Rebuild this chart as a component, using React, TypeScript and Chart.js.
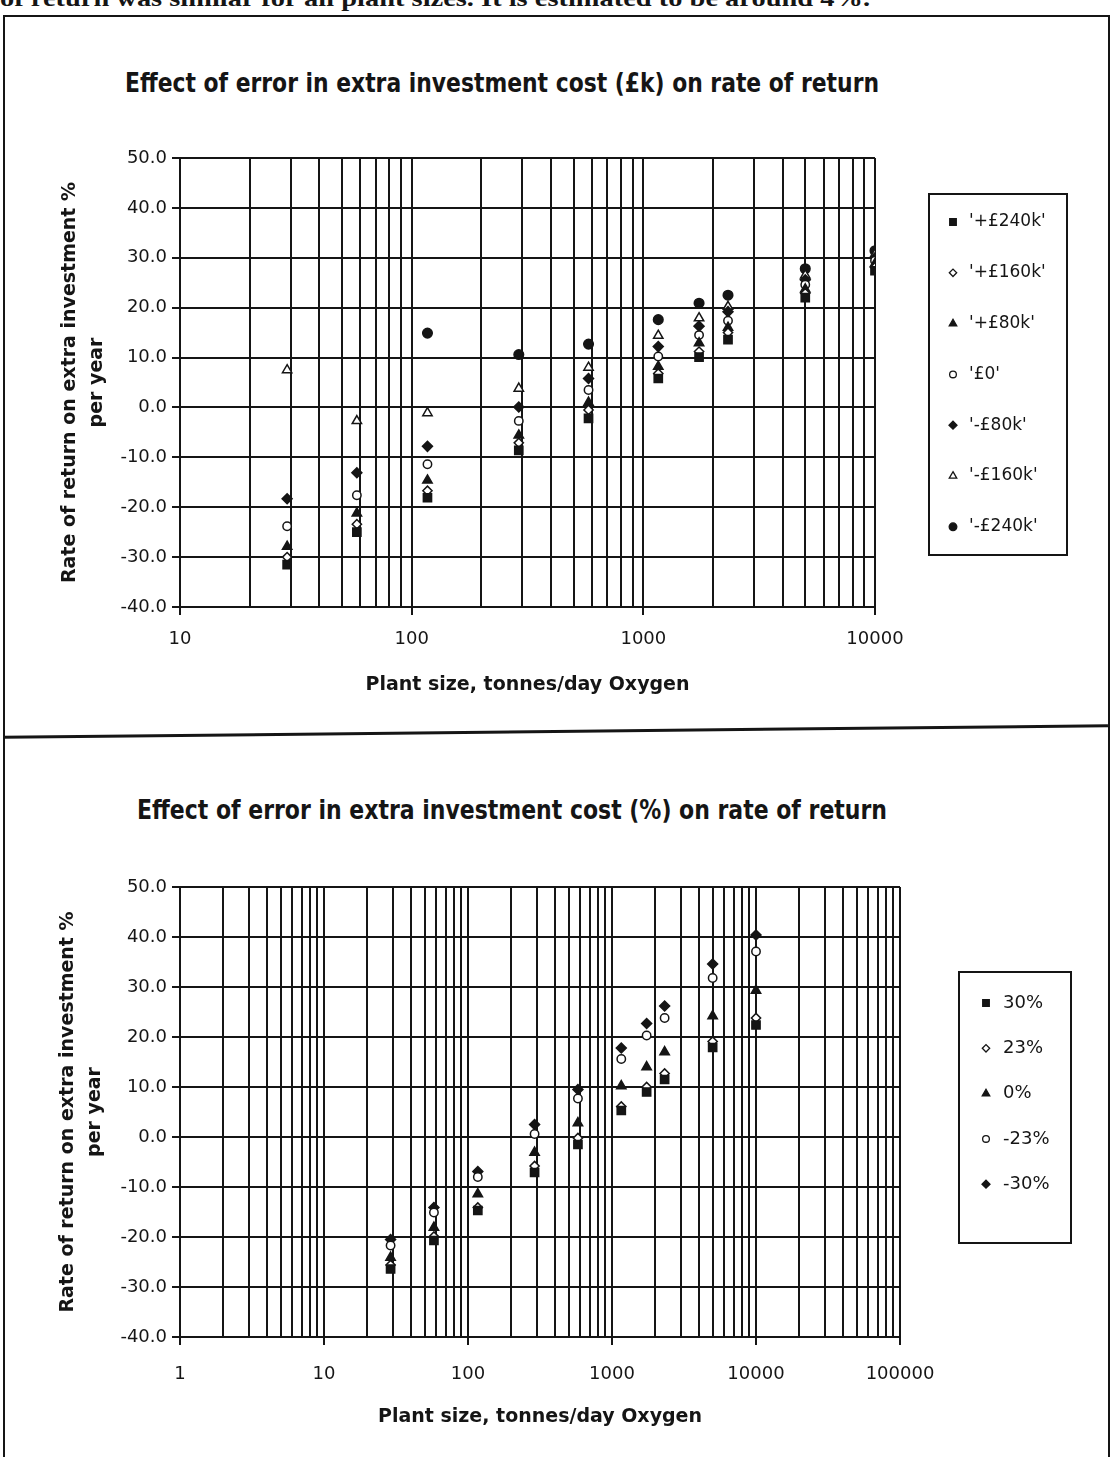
import React, { useEffect, useLayoutEffect, useRef } from 'react';
import { Chart, registerables } from 'chart.js';

Chart.register(...registerables);

// ---------- data ----------
const plantSizes = [29, 58, 117, 290, 580, 1160, 1740, 2320, 5000, 10000];

// Top chart: error in extra investment cost (£k)
const topSeriesLabels = ["'+£240k'", "'+£160k'", "'+£80k'", "'£0'", "'-£80k'", "'-£160k'", "'-£240k'"];
const plus240k = [-31.5, -25.0, -18.1, -8.6, -2.2, 5.8, 10.1, 13.6, 22.0, 27.4];
const plus160k = [-30.0, -23.4, -16.7, -7.1, -0.5, 6.8, 11.2, 15.0, 22.9, 28.1];
const plus80k = [-27.9, -21.2, -14.6, -5.6, 1.0, 8.2, 12.9, 16.0, 23.7, 28.8];
const zeroK = [-23.8, -17.6, -11.4, -2.7, 3.5, 10.2, 14.5, 17.4, 24.6, 29.4];
const minus80k = [-18.3, -13.1, -7.8, 0.1, 5.8, 12.2, 16.3, 19.2, 25.6, 30.0];
const minus160k = [7.5, -2.7, -1.1, 3.8, 8.0, 14.4, 17.9, 20.2, 26.5, 30.7];
const minus240k: (number | null)[] = [null, null, 14.9, 10.6, 12.7, 17.6, 20.9, 22.5, 27.8, 31.4];

// Bottom chart: error in extra investment cost (%)
const bottomSeriesLabels = ['30%', '23%', '0%', '-23%', '-30%'];
const pct30 = [-26.4, -20.7, -14.7, -7.1, -1.5, 5.3, 9.0, 11.5, 17.9, 22.4];
const pct23 = [-25.6, -19.9, -14.1, -5.8, -0.2, 6.1, 10.0, 12.7, 19.1, 23.8];
const pct0 = [-24.1, -18.1, -11.4, -3.1, 2.8, 10.2, 14.0, 17.0, 24.2, 29.3];
const pctMinus23 = [-21.7, -15.1, -8.0, 0.6, 7.7, 15.6, 20.3, 23.8, 31.8, 37.1];
const pctMinus30 = [-20.5, -14.1, -6.9, 2.5, 9.5, 17.8, 22.7, 26.2, 34.6, 40.4];

const yMin = -40;
const yMax = 50;
const yStep = 10;

const topTitle = 'Effect of error in extra investment cost (£k) on rate of return';
const bottomTitle = 'Effect of error in extra investment cost (%) on rate of return';
const xTitle = 'Plant size, tonnes/day Oxygen';
const yTitle = ['Rate of return on extra investment %', 'per year'];
const pageText = 'of return was similar for all plant sizes.  It is estimated to be around 4%.';

// ---------- helpers ----------
const INK = '#151515';
const FONT = '"DejaVu Sans", "Liberation Sans", sans-serif';

type Style = 'rect' | 'rectRot' | 'triangle' | 'circle';

function makeDataset(label: string, values: (number | null)[], style: Style, filled: boolean, radius: number) {
  return {
    label,
    data: plantSizes
      .map((x, i) => ({ x, y: values[i] }))
      .filter((p) => p.y !== null && p.y !== undefined),
    pointStyle: style,
    pointRadius: radius,
    pointHoverRadius: radius,
    pointBackgroundColor: filled ? INK : '#ffffff',
    pointBorderColor: INK,
    pointBorderWidth: 1.5,
    showLine: false,
  };
}

function logTicks(min: number, max: number) {
  const ticks: { value: number }[] = [];
  const e0 = Math.round(Math.log10(min));
  const e1 = Math.round(Math.log10(max));
  for (let e = e0; e < e1; e++) {
    for (let s = 1; s < 10; s++) ticks.push({ value: s * Math.pow(10, e) });
  }
  ticks.push({ value: max });
  return ticks;
}

function isDecade(v: number) {
  const l = Math.log10(v);
  return Math.abs(l - Math.round(l)) < 1e-6;
}

function drawMarker(ctx: CanvasRenderingContext2D, style: Style, x: number, y: number, r: number, fill: string, stroke: string, lw: number) {
  ctx.beginPath();
  if (style === 'rect') {
    const s = Math.SQRT1_2 * r;
    ctx.rect(x - s, y - s, 2 * s, 2 * s);
  } else if (style === 'rectRot') {
    ctx.moveTo(x - r, y);
    ctx.lineTo(x, y - r);
    ctx.lineTo(x + r, y);
    ctx.lineTo(x, y + r);
    ctx.closePath();
  } else if (style === 'triangle') {
    let a = 0;
    ctx.moveTo(x + Math.sin(a) * r, y - Math.cos(a) * r);
    a += (2 * Math.PI) / 3;
    ctx.lineTo(x + Math.sin(a) * r, y - Math.cos(a) * r);
    a += (2 * Math.PI) / 3;
    ctx.lineTo(x + Math.sin(a) * r, y - Math.cos(a) * r);
    ctx.closePath();
  } else {
    ctx.arc(x, y, r, 0, Math.PI * 2);
  }
  ctx.fillStyle = fill;
  ctx.fill();
  ctx.lineWidth = lw;
  ctx.strokeStyle = stroke;
  ctx.stroke();
}

const boxLegend = {
  id: 'boxLegend',
  afterDraw(chart: any, _args: any, opts: any) {
    const { ctx } = chart;
    ctx.save();
    ctx.lineWidth = 2;
    ctx.strokeStyle = INK;
    ctx.strokeRect(opts.x, opts.y, opts.w, opts.h);
    chart.data.datasets.forEach((ds: any, i: number) => {
      const cy = opts.firstY + i * opts.rowH;
      drawMarker(ctx, ds.pointStyle, opts.markerX, cy, ds.pointRadius * 0.8, ds.pointBackgroundColor, ds.pointBorderColor, 1.3);
      ctx.fillStyle = INK;
      ctx.font = `${opts.fontSize}px ${FONT}`;
      ctx.textBaseline = 'middle';
      ctx.textAlign = 'left';
      ctx.fillText(ds.label, opts.textX, cy);
    });
    ctx.restore();
  },
};

interface CfgArgs {
  datasets: any[];
  xMin: number;
  xMax: number;
  padding: { left: number; right: number; top: number; bottom: number };
  xAxisHeight: number;
  xTickPad: number;
  xTitlePad: number;
  legend: any;
}

function makeConfig(a: CfgArgs): any {
  const yAxisWidth = 180 - a.padding.left;
  return {
    type: 'scatter',
    data: { datasets: a.datasets },
    plugins: [boxLegend],
    options: {
      responsive: false,
      animation: false,
      events: [],
      layout: { padding: a.padding },
      plugins: {
        legend: { display: false },
        title: { display: false },
        tooltip: { enabled: false },
        boxLegend: a.legend,
      },
      scales: {
        x: {
          type: 'logarithmic',
          position: 'bottom',
          min: a.xMin,
          max: a.xMax,
          afterBuildTicks: (scale: any) => {
            scale.ticks = logTicks(a.xMin, a.xMax);
          },
          afterFit: (scale: any) => {
            scale.height = a.xAxisHeight;
          },
          ticks: {
            autoSkip: false,
            maxRotation: 0,
            minRotation: 0,
            padding: a.xTickPad,
            color: INK,
            font: { family: FONT, size: 18 },
            callback: (v: any) => (isDecade(Number(v)) ? String(Math.round(Number(v))) : ''),
          },
          grid: {
            color: INK,
            lineWidth: 2,
            tickLength: 8,
            tickColor: (ctx: any) => (ctx.tick && isDecade(ctx.tick.value) ? INK : 'rgba(0,0,0,0)'),
          },
          border: { display: true, color: INK, width: 2 },
          title: {
            display: true,
            text: xTitle,
            color: INK,
            font: { family: FONT, size: 19, weight: 'bold', lineHeight: 1.2 },
            padding: { top: 0, bottom: a.xTitlePad },
          },
        },
        y: {
          type: 'linear',
          position: 'left',
          min: yMin,
          max: yMax,
          afterFit: (scale: any) => {
            scale.width = yAxisWidth;
          },
          ticks: {
            stepSize: yStep,
            padding: 5,
            color: INK,
            font: { family: FONT, size: 18 },
            callback: (v: any) => Number(v).toFixed(1),
          },
          grid: { color: INK, lineWidth: 2, tickLength: 8, tickColor: INK },
          border: { display: true, color: INK, width: 2 },
          title: {
            display: true,
            text: yTitle,
            color: INK,
            font: { family: FONT, size: 19, weight: 'bold', lineHeight: 1.42 },
            padding: { top: 7, bottom: 0 },
          },
        },
      },
    },
  };
}

function ChartCanvas({ config, top, height }: { config: any; top: number; height: number }) {
  const ref = useRef<HTMLCanvasElement>(null);
  useEffect(() => {
    if (!ref.current) return;
    const chart = new Chart(ref.current, config);
    return () => chart.destroy();
  }, [config]);
  return (
    <canvas
      ref={ref}
      width={1112}
      height={height}
      style={{ position: 'absolute', left: 0, top, width: 1112, height, display: 'block' }}
    />
  );
}

function FitText(props: {
  text: string; left: number; top: number; width: number; fontSize: number;
  family: string; weight: string | number; lineHeight: number;
}) {
  const ref = useRef<HTMLSpanElement>(null);
  useLayoutEffect(() => {
    const el = ref.current;
    if (!el) return;
    el.style.transform = 'none';
    const w = el.getBoundingClientRect().width;
    if (w > 0) el.style.transform = `scaleX(${props.width / w})`;
  }, [props.text, props.width]);
  return (
    <span
      ref={ref}
      style={{
        position: 'absolute', left: props.left, top: props.top, whiteSpace: 'nowrap',
        display: 'inline-block', transformOrigin: '0 0', fontSize: props.fontSize,
        fontFamily: props.family, fontWeight: props.weight as any, lineHeight: `${props.lineHeight}px`,
        color: INK,
      }}
    >
      {props.text}
    </span>
  );
}

const topConfig = makeConfig({
  datasets: [
    makeDataset(topSeriesLabels[0], plus240k, 'rect', true, 5.8),
    makeDataset(topSeriesLabels[1], plus160k, 'rectRot', false, 4.6),
    makeDataset(topSeriesLabels[2], plus80k, 'triangle', true, 5.4),
    makeDataset(topSeriesLabels[3], zeroK, 'circle', false, 4.2),
    makeDataset(topSeriesLabels[4], minus80k, 'rectRot', true, 5.0),
    makeDataset(topSeriesLabels[5], minus160k, 'triangle', false, 5.4),
    makeDataset(topSeriesLabels[6], minus240k, 'circle', true, 4.8),
  ],
  xMin: 10,
  xMax: 10000,
  padding: { left: 50, right: 237, top: 58, bottom: 0 },
  xAxisHeight: 113,
  xTickPad: 14,
  xTitlePad: 24,
  legend: { x: 929, y: 94, w: 138, h: 361, firstY: 122, rowH: 50.8, markerX: 953, textX: 969, fontSize: 17 },
});

const bottomConfig = makeConfig({
  datasets: [
    makeDataset(bottomSeriesLabels[0], pct30, 'rect', true, 5.8),
    makeDataset(bottomSeriesLabels[1], pct23, 'rectRot', false, 4.6),
    makeDataset(bottomSeriesLabels[2], pct0, 'triangle', true, 5.4),
    makeDataset(bottomSeriesLabels[3], pctMinus23, 'circle', false, 4.2),
    makeDataset(bottomSeriesLabels[4], pctMinus30, 'rectRot', true, 5.0),
  ],
  xMin: 1,
  xMax: 100000,
  padding: { left: 48, right: 212, top: 137, bottom: 0 },
  xAxisHeight: 120,
  xTickPad: 19,
  xTitlePad: 29,
  legend: { x: 959, y: 222, w: 112, h: 271, firstY: 253, rowH: 45.3, markerX: 986, textX: 1003, fontSize: 18 },
});

export default function App() {
  return (
    <div
      style={{
        position: 'absolute', left: 0, top: 0, width: 1112, height: 1457,
        background: '#ffffff', overflow: 'hidden',
      }}
    >
      <FitText text={pageText} left={0} top={-14} width={870} fontSize={23} family='"Liberation Serif", "DejaVu Serif", serif' weight="bold" lineHeight={26} />
      <div style={{ position: 'absolute', left: 3, top: 15, width: 1103, height: 1460, border: `2px solid ${INK}` }} />
      <div
        style={{
          position: 'absolute', left: 3, top: 730, width: 1105, height: 0,
          borderTop: `3px solid ${INK}`, transform: 'rotate(-0.6deg)', transformOrigin: '50% 50%',
        }}
      />
      <FitText text={topTitle} left={125} top={69} width={754} fontSize={26} family={FONT} weight="bold" lineHeight={28} />
      <ChartCanvas config={topConfig} top={100} height={620} />
      <FitText text={bottomTitle} left={137} top={796} width={750} fontSize={26} family={FONT} weight="bold" lineHeight={28} />
      <ChartCanvas config={bottomConfig} top={750} height={707} />
    </div>
  );
}
